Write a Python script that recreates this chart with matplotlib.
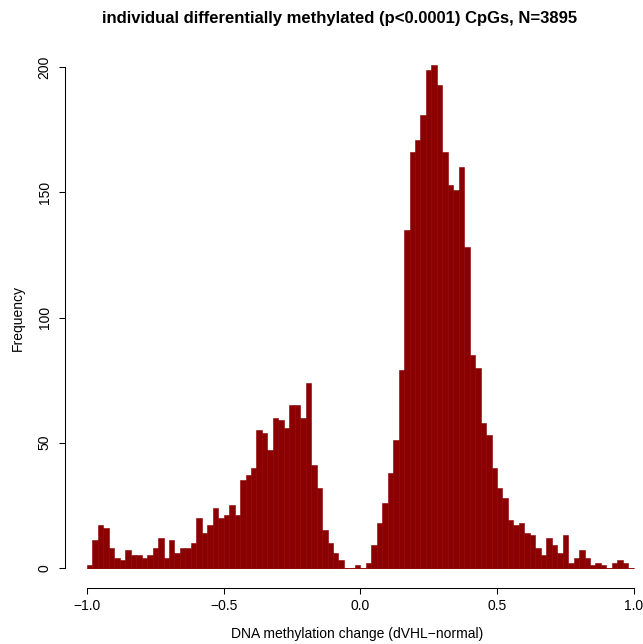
import numpy as np
import matplotlib
matplotlib.use("Agg")
import matplotlib.pyplot as plt

# histogram counts per 0.02-wide bin, from -1.0 to 1.0
bin_start = -1.0
bin_width = 0.02
counts = [
    1, 11, 17, 16, 8, 4, 3, 7, 5, 5,
    4, 5, 8, 12, 4, 11, 6, 8, 8, 10,
    20, 14, 17, 24, 20, 21, 25, 21, 35, 37,
    40, 55, 54, 47, 60, 59, 56, 65, 65, 60,
    74, 41, 32, 15, 10, 6, 3, 0, 0, 1,
    0, 2, 9, 18, 26, 38, 51, 79, 135, 166,
    171, 181, 199, 201, 193, 166, 153, 151, 160, 128,
    85, 80, 58, 53, 40, 32, 28, 19, 17, 18,
    14, 13, 8, 5, 12, 9, 6, 13, 2, 4,
    7, 4, 1, 2, 1, 0, 2, 3, 2, 0,
]
xticks = [-1.0, -0.5, 0.0, 0.5, 1.0]
yticks = [0, 50, 100, 150, 200]
title = "individual differentially methylated (p<0.0001) CpGs, N=3895"
xlabel = "DNA methylation change (dVHL\u2212normal)"
ylabel = "Frequency"

plt.rcParams["font.family"] = ["Liberation Sans", "DejaVu Sans"]

W, H = 643, 644
fig = plt.figure(figsize=(W / 100, H / 100), dpi=100)
left_px, right_px, top_px, bot_px = 65, 643, 44.4, 588.1
ax = fig.add_axes([left_px / W, 1 - bot_px / H, (right_px - left_px) / W, (bot_px - top_px) / H])

edges = bin_start + bin_width * np.arange(len(counts))
ax.bar(edges, counts, width=bin_width, align="edge", color="#8B0000",
       edgecolor="#8B0000", linewidth=0.4)
# R draws a border line even for empty bins
ax.hlines([0] * len(counts), edges, edges + bin_width, color="#8B0000", linewidth=0.6)

ax.set_xlim(-1.0805, 1.034)
ax.set_ylim(-8.04, 209.04)
ax.set_xticks(xticks)
ax.set_xticklabels(["\u22121.0", "\u22120.5", "0.0", "0.5", "1.0"])
ax.set_yticks(yticks)
ax.set_yticklabels([str(v) for v in yticks], rotation=90, va="center")
ax.tick_params(length=4.2, width=0.75, labelsize=10, pad=3.5)
ax.tick_params(axis="y", pad=5.5)

for s in ["top", "right"]:
    ax.spines[s].set_visible(False)
ax.spines["left"].set_bounds(0, 200)
ax.spines["bottom"].set_bounds(-1, 1)
ax.spines["left"].set_linewidth(0.75)
ax.spines["bottom"].set_linewidth(0.75)

fig.text(340 / W, 1 - 18 / H, title, ha="center", va="center", fontsize=12, fontweight="bold")
fig.text(357 / W, 1 - 634 / H, xlabel, ha="center", va="center", fontsize=10)
fig.text(18 / W, 1 - 318 / H, ylabel, ha="center", va="center", fontsize=10, rotation=90)

fig.savefig("out.png", dpi=100)
